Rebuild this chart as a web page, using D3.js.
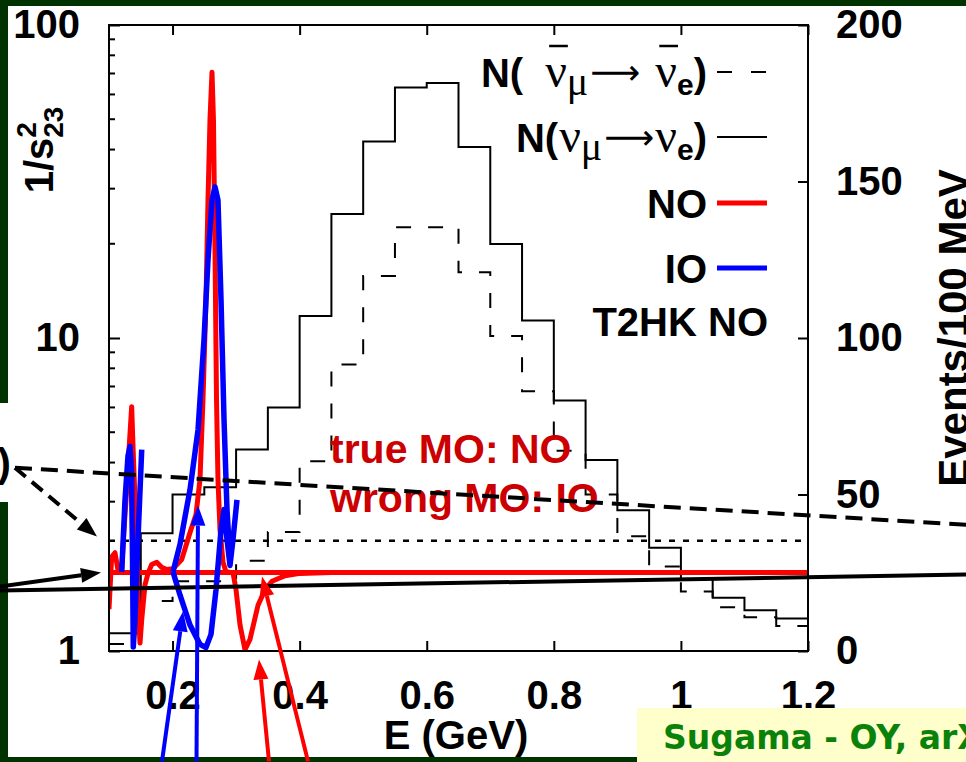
<!DOCTYPE html>
<html>
<head>
<meta charset="utf-8">
<script src="https://cdn.jsdelivr.net/npm/d3@7"></script>
<style>
  html, body { margin: 0; padding: 0; background: #003300; }
  svg { display: block; }
</style>
</head>
<body>
<svg id="chart" width="966" height="762"></svg>
<script>
// ---------------- data ----------------
// lower edges of the 50 MeV energy bins (GeV)
const binLow = [0.10, 0.15, 0.20, 0.25, 0.30, 0.35, 0.40, 0.45, 0.50, 0.55, 0.60,
                0.65, 0.70, 0.75, 0.80, 0.85, 0.90, 0.95, 1.00, 1.05, 1.10, 1.15];
const binWidth = 0.05;
// N(nu_mu -> nu_e) events per bin
const nuEvents = [5.7, 37.6, 50.0, 52.3, 64.4, 77.8, 107.0, 139.6, 162.8, 180.0, 181.5,
                  161.0, 130.0, 105.6, 80.0, 61.0, 45.0, 33.0, 23.0, 17.0, 13.0, 10.4];
// N(anti-nu_mu -> anti-nu_e) events per bin
const nubarEvents = [2.2, 16.0, 22.3, 22.3, 28.8, 38.0, 60.6, 91.5, 119.8, 135.4, 135.4,
                     121.0, 100.6, 83.0, 64.0, 50.0, 36.7, 27.0, 19.0, 14.0, 10.8, 8.0];

// 1/s23^2 solutions, normal ordering (E in GeV, value)
const noE = [0.1000, 0.1042, 0.1094, 0.1121, 0.1146, 0.1200, 0.1236, 0.1279, 0.1315, 0.1357,
             0.1378, 0.1409, 0.1441, 0.1465, 0.1488, 0.1515, 0.1567, 0.1618, 0.1672, 0.1751,
             0.1829, 0.1908, 0.2007, 0.2144, 0.2275, 0.2369, 0.2432, 0.2479, 0.2526, 0.2558,
             0.2589, 0.2621, 0.2644, 0.2668, 0.2692, 0.2715, 0.2747, 0.2794, 0.2841, 0.2951,
             0.2999, 0.3062, 0.3140, 0.3219, 0.3345, 0.3455, 0.3565, 0.3770, 0.4006, 0.4500];
const noV = [1.36, 2.00, 2.06, 1.92, 1.79, 1.82, 2.44, 3.28, 4.40, 6.03,
             4.50, 3.04, 1.96, 1.30, 1.06, 1.26, 1.63, 1.78, 1.89, 1.92,
             1.85, 1.82, 1.83, 1.96, 2.39, 2.73, 3.53, 6.35, 13.2, 27.6,
             49.7, 70.7, 49.7, 19.1, 6.35, 3.53, 2.44, 1.92, 1.79, 1.78,
             1.57, 1.21, 1.01, 1.09, 1.40, 1.57, 1.67, 1.74, 1.77, 1.78];

// 1/s23^2 solutions, inverted ordering: low-energy branch
const ioLowE = [0.1200, 0.1252, 0.1299, 0.1330, 0.1354, 0.1370, 0.1382, 0.1409, 0.1456, 0.1515];
const ioLowV = [1.79, 3.04, 4.20, 4.50, 3.80, 1.96, 1.03, 1.26, 2.27, 4.40];
// inverted ordering: upper branch around the resonance
const ioUpE = [0.2007, 0.2117, 0.2275, 0.2401, 0.2495, 0.2558, 0.2621, 0.2668, 0.2715, 0.2763,
               0.2810, 0.2857, 0.2904];
const ioUpV = [1.79, 2.19, 3.28, 5.09, 9.87, 17.8, 27.6, 30.4, 27.6, 13.2,
               5.48, 2.83, 1.96];
// inverted ordering: lower branch around the resonance
const ioDownE = [0.2007, 0.2117, 0.2275, 0.2432, 0.2526, 0.2605, 0.2684, 0.2763, 0.2810, 0.2857,
                 0.2904, 0.2951, 0.3014];
const ioDownV = [1.79, 1.51, 1.21, 1.05, 1.026, 1.13, 1.57, 2.44, 2.83, 2.27,
                 1.875, 2.27, 3.04];

// constant reference levels of 1/s23^2
const noLevel = 1.78;
const dottedLevel = 2.25;

// axis ticks
const xTicks = [0.2, 0.4, 0.6, 0.8, 1.0, 1.2];
const yLeftTicks = [1, 10, 100];
const yRightTicks = [0, 50, 100, 150, 200];

// legend entries
const legendKeys = ["NO", "IO"];
const legendColors = ["#ff0000", "#0000ff"];

// ---------------- layout ----------------
const svg = d3.select("#chart");
const sans = "'Liberation Sans', Arial, Helvetica, sans-serif";
const serif = "'Liberation Serif', 'Times New Roman', serif";
const box = { left: 109, right: 808, top: 25, bottom: 651 };

const x = d3.scaleLinear().domain([0.1, 1.2]).range([box.left, box.right]);
const yL = d3.scaleLog().domain([1, 100]).range([box.bottom, box.top]);
const yR = d3.scaleLinear().domain([0, 200]).range([box.bottom, box.top]);

// slide background
svg.append("rect").attr("width", 966).attr("height", 762).attr("fill", "#003300");
svg.append("rect").attr("x", 8).attr("y", 6).attr("width", 958).attr("height", 751).attr("fill", "#ffffff");
svg.append("rect").attr("x", 0).attr("y", 403).attr("width", 30).attr("height", 99).attr("fill", "#ffffff");

// clip for plotted curves
svg.append("clipPath").attr("id", "plotClip")
  .append("rect").attr("x", box.left).attr("y", box.top)
  .attr("width", box.right - box.left).attr("height", box.bottom - box.top);

// ---------------- axes ----------------
function styleAxis(g) {
  g.select(".domain").remove();
  g.selectAll(".tick line").attr("stroke", "#000").attr("stroke-width", 2);
  g.selectAll(".tick text").attr("font-family", sans).attr("font-weight", "bold")
    .attr("font-size", 40).attr("fill", "#000");
}
const fmt = d3.format("~g");

svg.append("g").attr("transform", `translate(0,${box.bottom})`)
  .call(d3.axisBottom(x).tickValues(xTicks).tickSize(-10).tickPadding(30).tickFormat(fmt))
  .call(styleAxis);
svg.append("g").attr("transform", `translate(0,${box.top})`)
  .call(d3.axisTop(x).tickValues(xTicks).tickSize(-10).tickFormat(""))
  .call(styleAxis);
svg.append("g").attr("transform", `translate(${box.left},0)`)
  .call(d3.axisLeft(yL).tickValues(yLeftTicks).tickSize(-11).tickPadding(29).tickFormat(fmt))
  .call(styleAxis);
svg.append("g").attr("transform", `translate(${box.right},0)`)
  .call(d3.axisRight(yR).tickValues(yRightTicks).tickSize(-10).tickPadding(28).tickFormat(fmt))
  .call(styleAxis);

// log minor ticks on the left frame
const minor = [];
[1, 10].forEach(d => { for (let m = 2; m <= 9; m++) minor.push(m * d); });
svg.append("g").selectAll("line").data(minor).join("line")
  .attr("x1", box.left).attr("x2", box.left + 6)
  .attr("y1", d => yL(d)).attr("y2", d => yL(d))
  .attr("stroke", "#000").attr("stroke-width", 2);

// axis titles
svg.append("text")
  .attr("x", 456).attr("y", 749).attr("text-anchor", "middle")
  .attr("font-family", sans).attr("font-weight", "bold").attr("font-size", 40)
  .text("E (GeV)");

const yTitle = svg.append("text")
  .attr("transform", "translate(53,150) rotate(-90)")
  .attr("text-anchor", "middle")
  .attr("font-family", sans).attr("font-weight", "bold").attr("font-size", 40);
yTitle.append("tspan").text("1/s");
yTitle.append("tspan").attr("font-size", 28).attr("dy", -17).text("2");
yTitle.append("tspan").attr("font-size", 28).attr("dx", -15.6).attr("dy", 27).text("23");

svg.append("text")
  .attr("transform", "translate(968,328) rotate(-90)")
  .attr("text-anchor", "middle")
  .attr("font-family", sans).attr("font-weight", "bold").attr("font-size", 42)
  .text("Events/100 MeV");

// ---------------- histograms ----------------
const stepLine = d3.line().curve(d3.curveStepAfter).x(d => x(d[0])).y(d => yR(d[1]));
function stepPoints(values) {
  const pts = binLow.map((e, i) => [e, values[i]]);
  pts.push([binLow[binLow.length - 1] + binWidth, values[values.length - 1]]);
  return pts;
}
const plotLayer = svg.append("g").attr("clip-path", "url(#plotClip)");
plotLayer.append("path").datum(stepPoints(nuEvents))
  .attr("d", stepLine).attr("fill", "none").attr("stroke", "#000").attr("stroke-width", 2);
plotLayer.append("path").datum(stepPoints(nubarEvents))
  .attr("d", stepLine).attr("fill", "none").attr("stroke", "#000").attr("stroke-width", 2)
  .attr("stroke-dasharray", "15,17");

// reference levels
plotLayer.append("line")
  .attr("x1", x(0.1)).attr("x2", x(1.2)).attr("y1", yL(dottedLevel)).attr("y2", yL(dottedLevel))
  .attr("stroke", "#000").attr("stroke-width", 2.5).attr("stroke-dasharray", "6,8");
plotLayer.append("line")
  .attr("x1", x(0.1)).attr("x2", x(1.2)).attr("y1", yL(noLevel)).attr("y2", yL(noLevel))
  .attr("stroke", "#ff0000").attr("stroke-width", 5);

// 1/s23^2 curves
const curve = d3.line().x(d => x(d[0])).y(d => yL(d[1]));
const zip = (a, b) => a.map((v, i) => [v, b[i]]);
plotLayer.append("path").datum(zip(noE, noV)).attr("d", curve)
  .attr("fill", "none").attr("stroke", "#ff0000").attr("stroke-width", 5).attr("stroke-linejoin", "round");
[zip(ioLowE, ioLowV), zip(ioUpE, ioUpV), zip(ioDownE, ioDownV)].forEach(branch => {
  plotLayer.append("path").datum(branch).attr("d", curve)
    .attr("fill", "none").attr("stroke", "#0000ff").attr("stroke-width", 5.5).attr("stroke-linejoin", "round");
});

// frame
svg.append("rect").attr("x", box.left).attr("y", box.top)
  .attr("width", box.right - box.left).attr("height", box.bottom - box.top)
  .attr("fill", "none").attr("stroke", "#000").attr("stroke-width", 2);

// ---------------- legend ----------------
const legX = 707, sampleX1 = 717, sampleX2 = 767;
function legendText(yBase) {
  return svg.append("text").attr("x", legX).attr("y", yBase).attr("text-anchor", "end")
    .attr("font-family", sans).attr("font-weight", "bold").attr("font-size", 40);
}
// "N(nu_mu -> nu_e)" label as one text; the long arrow is sized to a fixed advance,
// bars are drawn over the neutrinos for the antineutrino channel
function channelLabel(yBase, anti) {
  const t = legendText(yBase);
  t.append("tspan").text("N(");
  t.append("tspan").attr("font-family", serif).attr("font-weight", "normal")
    .attr("font-size", 48).attr("dx", anti ? 22 : 1).text("\u03BD");
  t.append("tspan").attr("font-family", serif).attr("font-weight", "normal")
    .attr("font-size", 40).attr("dy", 8).text("\u03BC");
  const arrow = t.append("tspan").attr("font-family", "'DejaVu Sans', sans-serif")
    .attr("font-weight", "normal").attr("font-size", 32).attr("dx", 2).attr("dy", -11)
    .text("\u27F6");
  t.append("tspan").attr("font-family", serif).attr("font-weight", "normal")
    .attr("font-size", 48).attr("dx", anti ? 15 : 1).attr("dy", 3).text("\u03BD");
  t.append("tspan").attr("font-size", 30).attr("dy", 8).text("e");
  t.append("tspan").attr("dy", -8).text(")");
  // size the arrow so that it spans about 50 px
  const arrowIdx = 4;
  const adv = t.node().getExtentOfChar(arrowIdx).width;
  if (adv > 0) arrow.attr("font-size", 32 * 50 / adv);
  if (anti) {
    [2, 5].forEach(i => {
      const r = t.node().getExtentOfChar(i);
      svg.append("line").attr("x1", r.x + 4).attr("x2", r.x + r.width + 1)
        .attr("y1", yBase - 41).attr("y2", yBase - 41)
        .attr("stroke", "#000").attr("stroke-width", 2.5);
    });
  }
}
channelLabel(87, true);
svg.append("line").attr("x1", sampleX1).attr("x2", sampleX2).attr("y1", 72).attr("y2", 72)
  .attr("stroke", "#000").attr("stroke-width", 2).attr("stroke-dasharray", "15,19");
channelLabel(152, false);
svg.append("line").attr("x1", sampleX1).attr("x2", sampleX2).attr("y1", 137).attr("y2", 137)
  .attr("stroke", "#000").attr("stroke-width", 2);

// ordering rows
legendKeys.forEach((k, i) => {
  const yb = 218 + i * 65;
  legendText(yb).text(k);
  svg.append("line").attr("x1", sampleX1).attr("x2", sampleX2)
    .attr("y1", yb - 15).attr("y2", yb - 15)
    .attr("stroke", legendColors[i]).attr("stroke-width", 5);
});
svg.append("text").attr("x", 768).attr("y", 336).attr("text-anchor", "end")
  .attr("font-family", sans).attr("font-weight", "bold").attr("font-size", 40)
  .text("T2HK NO");

// case labels
svg.append("text").attr("x", 330).attr("y", 463)
  .attr("font-family", sans).attr("font-weight", "bold").attr("font-size", 41)
  .attr("fill", "#cc0000").text("true MO: NO");
svg.append("text").attr("x", 330).attr("y", 512)
  .attr("font-family", sans).attr("font-weight", "bold").attr("font-size", 41)
  .attr("fill", "#cc0000").text("wrong MO: IO");

// ---------------- slide annotations (in E / 1/s23^2 coordinates) ----------------
const guideLines = [
  { from: [-0.048, 3.85], to: [1.449, 2.53], dash: "17,9" },
  { from: [-0.0715, 1.56], to: [1.449, 1.755], dash: null }
];
guideLines.forEach(g => {
  svg.append("line")
    .attr("x1", x(g.from[0])).attr("y1", yL(g.from[1]))
    .attr("x2", x(g.to[0])).attr("y2", yL(g.to[1]))
    .attr("stroke", "#000").attr("stroke-width", 4)
    .attr("stroke-dasharray", g.dash);
});

const arrows = [
  { from: [-0.048, 3.85], to: [0.0811, 2.32], color: "#000", dash: "14,8", w: 4 },
  { from: [-0.0715, 1.607], to: [0.0874, 1.78], color: "#000", dash: null, w: 4 },
  { from: [0.1834, 0.444], to: [0.2165, 1.337], color: "#0000ff", dash: null, w: 4 },
  { from: [0.2377, 0.444], to: [0.2401, 2.913], color: "#0000ff", dash: null, w: 4 },
  { from: [0.3518, 0.444], to: [0.3361, 0.9395], color: "#ff0000", dash: null, w: 4 },
  { from: [0.4132, 0.444], to: [0.3408, 1.729], color: "#ff0000", dash: null, w: 4 }
];
arrows.forEach(a => {
  const x1 = x(a.from[0]), y1 = yL(a.from[1]);
  const x2 = x(a.to[0]), y2 = yL(a.to[1]);
  const ang = Math.atan2(y2 - y1, x2 - x1);
  const head = 20, half = 7.5;
  const bx = x2 - head * Math.cos(ang), by = y2 - head * Math.sin(ang);
  svg.append("line").attr("x1", x1).attr("y1", y1).attr("x2", bx).attr("y2", by)
    .attr("stroke", a.color).attr("stroke-width", a.w).attr("stroke-dasharray", a.dash);
  const px = -Math.sin(ang) * half, py = Math.cos(ang) * half;
  svg.append("path")
    .attr("d", `M${x2},${y2}L${bx + px},${by + py}L${bx - px},${by - py}Z`)
    .attr("fill", a.color);
});

// text box cut by the slide edge
svg.append("text").attr("x", 11).attr("y", 477).attr("text-anchor", "end")
  .attr("font-family", sans).attr("font-weight", "bold").attr("font-size", 41).text(")");

// citation box
svg.append("rect").attr("x", 637).attr("y", 708).attr("width", 329).attr("height", 54).attr("fill", "#ffffcc");
svg.append("text").attr("x", 663).attr("y", 749)
  .attr("font-family", "'DejaVu Sans', Verdana, sans-serif").attr("font-weight", "bold")
  .attr("font-size", 33).attr("fill", "#0a820a")
  .text("Sugama - OY, arXiv");
</script>
</body>
</html>
